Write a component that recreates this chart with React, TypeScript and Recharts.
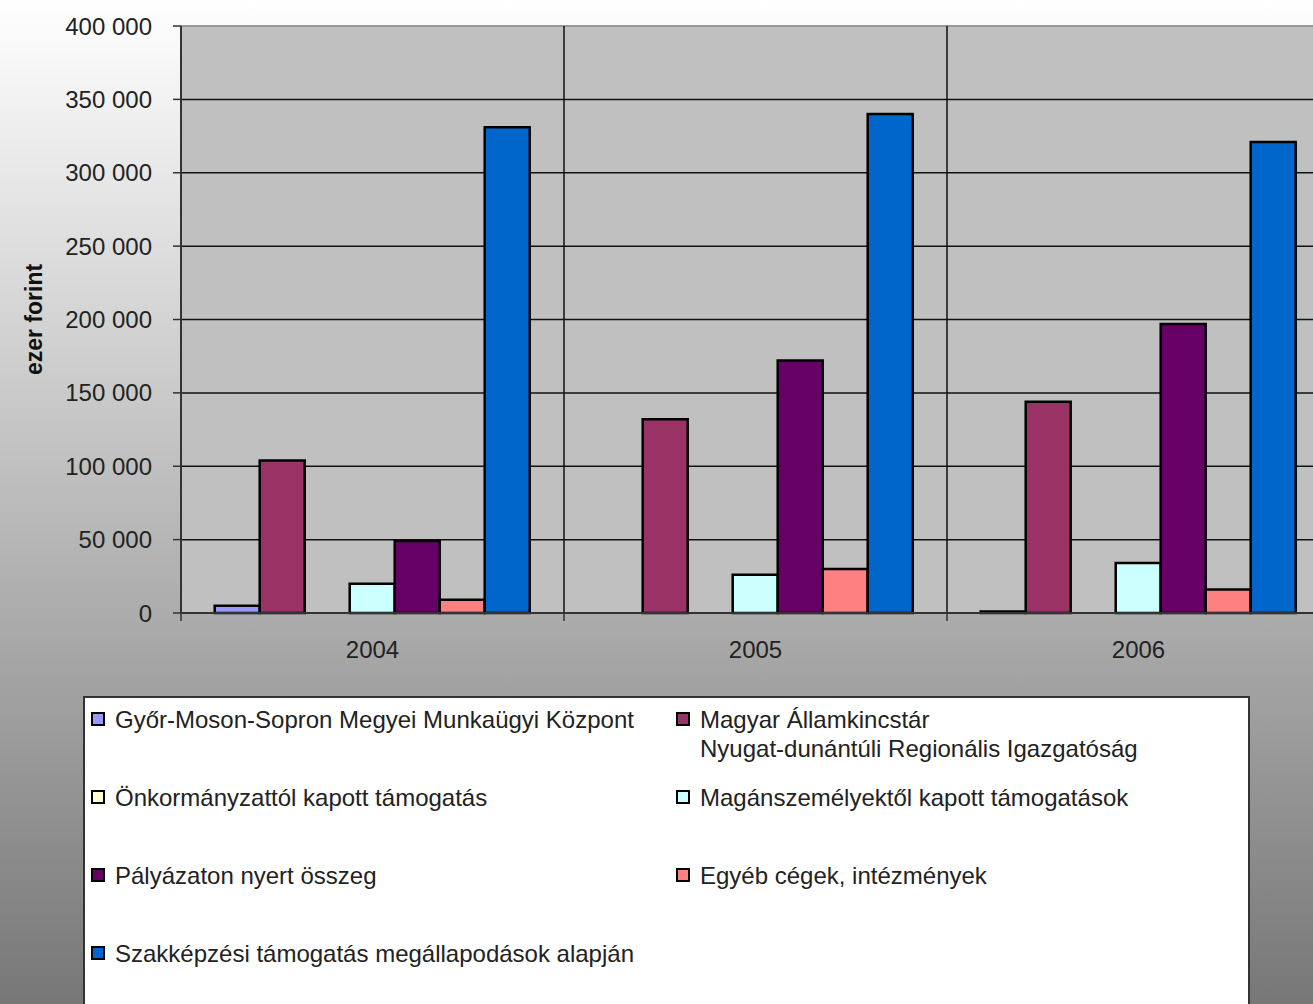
import React from 'react';
import {
  Bar,
  BarChart,
  CartesianGrid,
  Label,
  ReferenceLine,
  XAxis,
  YAxis,
} from 'recharts';

const years = ['2004', '2005', '2006'];

// ezer forint
const munkaugyiKozpont = [5000, 0, 1000];
const allamkincstar = [104000, 132000, 144000];
const onkormanyzat = [0, 0, 0];
const maganszemelyek = [20000, 26000, 34000];
const palyazat = [49000, 172000, 197000];
const egyebCegek = [9000, 30000, 16000];
const szakkepzesi = [331000, 340000, 321000];

const seriesNames = [
  'Győr-Moson-Sopron Megyei Munkaügyi Központ',
  'Magyar Államkincstár\nNyugat-dunántúli Regionális Igazgatóság',
  'Önkormányzattól kapott támogatás',
  'Magánszemélyektől kapott támogatások',
  'Pályázaton nyert összeg',
  'Egyéb cégek, intézmények',
  'Szakképzési támogatás megállapodások alapján',
];
const seriesColors = ['#9999ff', '#993366', '#ffffcc', '#ccffff', '#660066', '#ff8080', '#0066cc'];
const seriesValues = [
  munkaugyiKozpont,
  allamkincstar,
  onkormanyzat,
  maganszemelyek,
  palyazat,
  egyebCegek,
  szakkepzesi,
];

const yTicks = [0, 50000, 100000, 150000, 200000, 250000, 300000, 350000, 400000];

const data = years.map((year, i) => {
  const row: Record<string, string | number> = { year };
  seriesValues.forEach((vals, s) => {
    row[`s${s}`] = vals[i];
  });
  return row;
});

const fmt = (v: number) => String(v).replace(/\B(?=(\d{3})+(?!\d))/g, ' ');

function YTitle(props: any) {
  const vb = props.viewBox || { y: 26, height: 587 };
  const x = 34;
  const y = vb.y + vb.height / 2;
  return (
    <text
      x={x}
      y={y}
      transform={`rotate(-90 ${x} ${y})`}
      textAnchor="middle"
      dominantBaseline="central"
      fontWeight="bold"
      fontSize={23}
      fill="#111"
    >
      ezer forint
    </text>
  );
}

// year label in the middle of the band, tick mark on the band's left edge
function YearTick(props: any) {
  const { x, y, payload } = props;
  const half = payload && payload.offset ? payload.offset : 0;
  const xb = x - half;
  return (
    <g>
      <line x1={xb} y1={y} x2={xb} y2={y + 8} stroke="#333" strokeWidth={1.5} />
      <text x={x} y={y + 36} textAnchor="middle" dominantBaseline="central" fontSize={24} fill="#222">
        {payload.value}
      </text>
    </g>
  );
}

function LegendBox() {
  return (
    <div
      style={{
        position: 'absolute',
        left: 83,
        top: 696,
        width: 1157,
        height: 330,
        background: '#fff',
        border: '2px solid #333',
        boxSizing: 'content-box',
        display: 'grid',
        gridTemplateColumns: '585px 1fr',
        gridAutoRows: '78px',
        paddingTop: 7,
        paddingLeft: 6,
      }}
    >
      {seriesNames.map((name, i) => (
        <div key={name} style={{ display: 'flex', alignItems: 'flex-start' }}>
          <span
            style={{
              width: 10,
              height: 10,
              marginTop: 7,
              marginRight: 10,
              flex: 'none',
              background: seriesColors[i],
              border: '2.5px solid #000',
            }}
          />
          <span style={{ whiteSpace: 'pre-line', fontSize: 24, lineHeight: '29px', color: '#222' }}>
            {name}
          </span>
        </div>
      ))}
    </div>
  );
}

export default function App() {
  return (
    <div
      style={{
        position: 'fixed',
        left: 0,
        top: 0,
        width: 1313,
        height: 1004,
        overflow: 'hidden',
        background: 'linear-gradient(to bottom, #ffffff 0%, #777777 100%)',
        fontFamily: '"Liberation Sans", Arial, sans-serif',
      }}
    >
      <div style={{ position: 'absolute', left: 0, top: 0 }}>
        <BarChart
          width={1340}
          height={680}
          data={data}
          margin={{ top: 26, right: 10, left: 0, bottom: 0 }}
          barCategoryGap="8.8%"
          barGap={0}
        >
          <CartesianGrid vertical={false} fill="#c0c0c0" stroke="#111" strokeWidth={1.5} />
          <XAxis
            dataKey="year"
            height={67}
            tickLine={false}
            axisLine={{ stroke: '#333', strokeWidth: 2 }}
            tickSize={0}
            tickMargin={0}
            tick={<YearTick />}
          />
          <YAxis
            width={181}
            domain={[0, 400000]}
            ticks={yTicks}
            tickFormatter={fmt}
            tickSize={8}
            tickMargin={21}
            tickLine={{ stroke: '#333', strokeWidth: 1.5 }}
            axisLine={{ stroke: '#333', strokeWidth: 2 }}
            tick={{ fill: '#222', fontSize: 24 }}
          >
            <Label content={<YTitle />} />
          </YAxis>
          <ReferenceLine y={400000} stroke="#999" strokeWidth={2} />
          {years.slice(1).map((yr) => (
            <ReferenceLine key={yr} x={yr} position="start" stroke="#111" strokeWidth={1.5} />
          ))}
          {seriesNames.map((name, s) => (
            <Bar
              key={name}
              dataKey={`s${s}`}
              name={name}
              fill={seriesColors[s]}
              stroke="#000"
              strokeWidth={2.5}
              isAnimationActive={false}
            />
          ))}
        </BarChart>
      </div>
      <LegendBox />
    </div>
  );
}
